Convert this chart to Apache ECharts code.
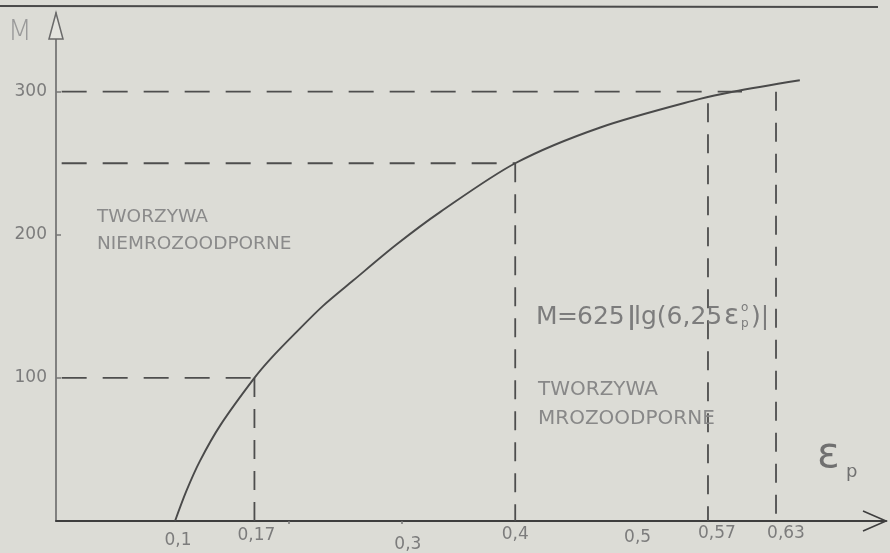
<!DOCTYPE html>
<html>
<head>
<meta charset="utf-8">
<script src="https://cdn.jsdelivr.net/npm/echarts@6/dist/echarts.min.js"></script>
<style>
  html, body { margin: 0; padding: 0; background: #dcdcd6; }
  #chart { width: 890px; height: 553px; }
</style>
</head>
<body>
<div id="chart"></div>
<script>
// Strain axis ticks and their printed labels
const strainTicks = [0.1, 0.17, 0.3, 0.4, 0.5, 0.57, 0.63];
const strainTickLabels = ['0,1', '0,17', '0,3', '0,4', '0,5', '0,57', '0,63'];
const strainMinorTicks = [0.2, 0.3];

// Modulus axis ticks
const modulusTicks = [100, 200, 300];

// Curve M(εp)
const curveStrain  = [0.1, 0.11, 0.122, 0.14, 0.17, 0.185, 0.207, 0.23, 0.257, 0.295, 0.334, 0.4, 0.475, 0.563, 0.592, 0.651];
const curveModulus = [0,   21,   42,    67,   100,  114,   132,   150,  168,   193,   216,   250, 275,   295,   300,   308];

// Horizontal guides: level of M and the strain where the dashes stop
const guideLevels    = [100, 250, 300];
const guideLevelEnds = [0.17, 0.4, 0.6];

// Vertical guides: strain and the M where the dashes start
const guideStrains    = [0.17, 0.4, 0.57, 0.63];
const guideStrainTops = [100, 250, 292, 300];

const X_MIN = -0.005, X_MAX = 0.727, Y_MAX = 355;
const INK = '#4e4e4e';
const TEXT = '#7c7c7c';
const FONT = '"DejaVu Sans", sans-serif';

// hand-lettered tick labels sit a little off their ticks: [down, right]
const labelNudge = [[7, 3], [2, 2], [11, 6], [1, 0], [4, 9], [0, 9], [0, 10]];
const tickRich = {};
labelNudge.forEach(function (n, i) {
  tickRich['t' + i] = {
    fontFamily: FONT, fontSize: 17, color: TEXT,
    padding: [n[0], 0, 0, 2 * n[1]]
  };
});

const curveData = curveStrain.map(function (x, i) { return [x, curveModulus[i]]; });

const guideSeries = [];
guideLevels.forEach(function (m, i) {
  guideSeries.push({
    type: 'line', silent: true, symbol: 'none', z: 2,
    data: [[0, m], [guideLevelEnds[i], m]],
    lineStyle: { color: INK, width: 1.8, type: [25, 16] }
  });
});
guideStrains.forEach(function (x, i) {
  guideSeries.push({
    type: 'line', silent: true, symbol: 'none', z: 2,
    data: [[x, guideStrainTops[i]], [x, 0]],
    lineStyle: { color: INK, width: 1.8, type: [19, 12] }
  });
});

const chart = echarts.init(document.getElementById('chart'), null, { renderer: 'canvas' });

chart.setOption({
  animation: false,
  backgroundColor: '#dcdcd6',
  grid: { left: 56, right: 4, top: 13, bottom: 28.5, containLabel: false },
  xAxis: {
    type: 'value', min: X_MIN, max: X_MAX,
    splitLine: { show: false },
    axisLine: { show: true, onZero: false, lineStyle: { color: '#3e3e3e', width: 2 } },
    axisTick: { show: true, customValues: strainMinorTicks, length: 3, lineStyle: { color: '#777', width: 1.5 } },
    axisLabel: {
      show: true, customValues: strainTicks, margin: 4, verticalAlign: 'top',
      formatter: function (v) {
        let k = 0;
        strainTicks.forEach(function (t, i) { if (Math.abs(t - v) < 1e-6) k = i; });
        return '{t' + k + '|' + strainTickLabels[k] + '}';
      },
      rich: tickRich
    }
  },
  yAxis: {
    type: 'value', min: 0, max: Y_MAX,
    splitLine: { show: false },
    axisLine: { show: true, onZero: false, lineStyle: { color: '#6a6a6a', width: 1.6 } },
    axisTick: { show: true, inside: true, customValues: modulusTicks, length: 5, lineStyle: { color: '#777', width: 1.5 } },
    axisLabel: {
      show: true, customValues: modulusTicks, margin: 9,
      fontFamily: FONT, fontSize: 17, color: TEXT
    }
  },
  series: [
    {
      type: 'line', name: 'M', data: curveData, smooth: 0.3,
      symbol: 'none', z: 3,
      lineStyle: { color: '#4a4a4a', width: 1.9 }
    }
  ].concat(guideSeries)
});

// decorations: axis arrows, axis names, annotations
function px(x, y) { return chart.convertToPixel({ gridIndex: 0 }, [x, y]); }
const origin = px(X_MIN, 0);
const xEnd = px(X_MAX, 0);
const yEnd = px(X_MIN, Y_MAX);

function txt(x, y, s, size, opts) {
  opts = opts || {};
  return {
    type: 'text', x: x, y: y, silent: true, z: 10,
    style: {
      text: s, fill: opts.fill || TEXT,
      font: (opts.weight || 'normal') + ' ' + size + 'px ' + FONT,
      textAlign: opts.align || 'left', textVerticalAlign: opts.valign || 'middle'
    }
  };
}

// formula M=625|lg(6,25 εp°)|, lettered piece by piece
const fy = 317, fs = 25;

chart.setOption({
  graphic: [
    // page rule and folio
    { type: 'line', silent: true, shape: { x1: 0, y1: 6, x2: 878, y2: 7 }, style: { stroke: '#4a4a4a', lineWidth: 2 } },
    txt(842, 3, '103', 15, { valign: 'bottom', fill: '#6a6a6a' }),
    // y axis arrow head
    {
      type: 'polygon', silent: true, z: 5,
      shape: { points: [[yEnd[0] - 7, yEnd[1] + 26], [yEnd[0], yEnd[1]], [yEnd[0] + 7, yEnd[1] + 26]] },
      style: { fill: '#e4e4df', stroke: '#6a6a6a', lineWidth: 1.5 }
    },
    // x axis arrow head
    {
      type: 'polyline', silent: true, z: 5,
      shape: { points: [[xEnd[0] - 23, xEnd[1] - 10], [xEnd[0], xEnd[1]], [xEnd[0] - 23, xEnd[1] + 10]] },
      style: { stroke: '#3e3e3e', lineWidth: 1.6, fill: null }
    },
    // axis names
    txt(origin[0] - 24, 33, 'M', 28, { align: 'right', fill: '#9a9a9a', weight: 'lighter' }),
    txt(817, 456, 'ε', 42, { fill: '#707070' }),
    txt(846, 472, 'p', 18, { fill: '#707070' }),
    // region captions
    txt(97, 217, 'TWORZYWA', 18.5, { fill: '#8a8a8a' }),
    txt(97, 244, 'NIEMROZOODPORNE', 18.5, { fill: '#8a8a8a' }),
    txt(538, 390, 'TWORZYWA', 20, { fill: '#888' }),
    txt(538, 419, 'MROZOODPORNE', 20, { fill: '#888' }),
    // formula
    txt(536, fy, 'M', fs),
    txt(557, fy, '=', fs),
    txt(577, fy, '625', fs),
    txt(627, fy, '|', fs, { weight: 'bold' }),
    txt(634, fy, 'lg(6,25', fs),
    txt(724, fy, 'ε', 28),
    txt(741, fy - 9, 'o', 12),
    txt(741, fy + 7, 'p', 12),
    txt(751, fy, ')|', fs)
  ]
});
</script>
</body>
</html>
